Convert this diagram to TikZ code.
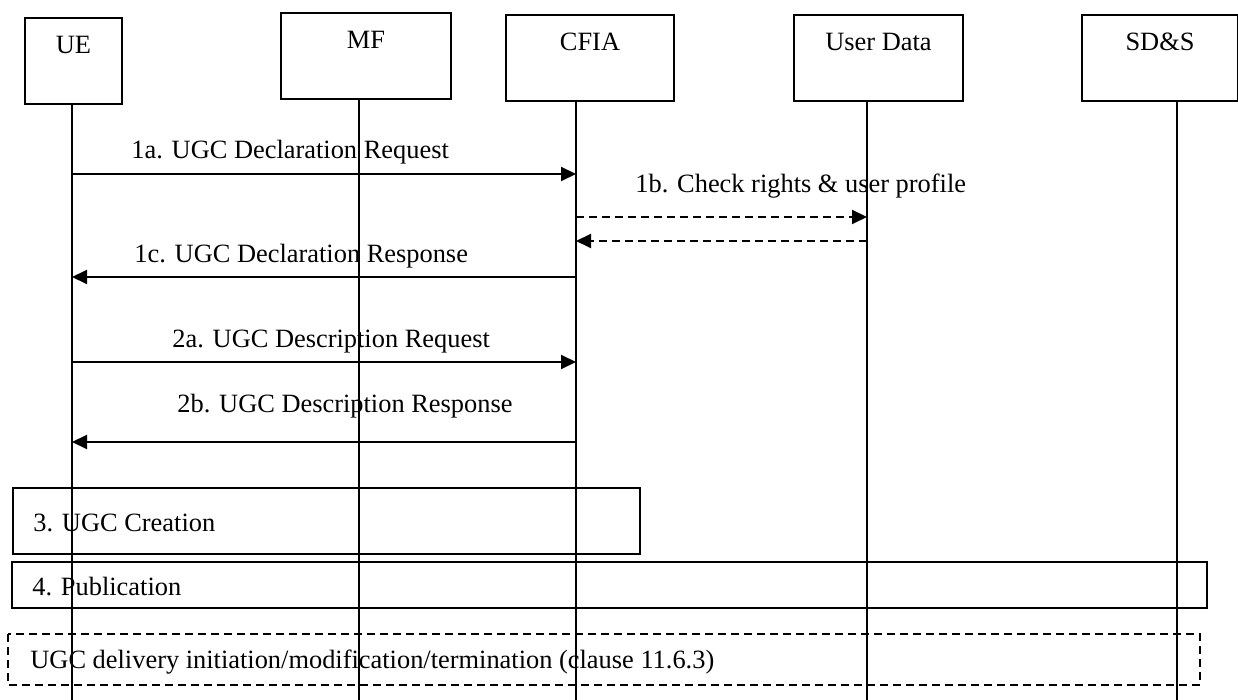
\documentclass[tikz,border=0pt]{standalone}
\usepackage{fontspec}
\setmainfont{Liberation Serif}
\usetikzlibrary{arrows.meta}

\tikzset{
  entity/.style={draw, line width=1pt, inner sep=0pt, anchor=north west,
    minimum width=#1*0.5pt, text height=18pt, text depth=25pt},
  life/.style={line width=1pt},
  msg/.style={line width=1pt, -{Triangle[length=7.5pt,width=7pt]}},
  reply/.style={msg, dashed, dash pattern=on 4pt off 2.5pt},
  stage/.style={line width=1pt},
  txt/.style={anchor=base west, inner sep=0pt}
}

\begin{document}
\begin{tikzpicture}[x=0.5pt, y=-0.5pt, every node/.style={font=\fontsize{13.2}{15}\selectfont}]
\useasboundingbox (0,0) rectangle (1238,700);
% The entities at the top
\node[entity=97] (ue) at (24,17) {UE};
\node[entity=170] (mf) at (280,12) {MF};
\node[entity=168] (cfia) at (505,14) {CFIA};
\node[entity=169] (ud) at (793,14) {User Data};
\node[entity=156] (sds) at (1081,14) {SD\&S};
% Lifelines, down to the bottom edge
\coordinate (ueL) at (72,700);
\coordinate (mfL) at (359,700);
\coordinate (cfiaL) at (576,700);
\coordinate (udL) at (867,700);
\coordinate (sdsL) at (1177,700);
\draw[life] (ue.south -| ueL) -- (ueL);
\draw[life] (mf.south -| mfL) -- (mfL);
\draw[life] (cfia.south -| cfiaL) -- (cfiaL);
\draw[life] (ud.south -| udL) -- (udL);
\draw[life] (sds.south -| sdsL) -- (sdsL);
% Step 1: declaration
\draw[msg] (ueL |- 0,174) -- (cfiaL |- 0,174);
\node[txt] (m1a) at (131,159) {1a. UGC Declaration Request};
\draw[reply] (cfiaL |- 0,217) -- (udL |- 0,217);
\draw[reply] (udL |- 0,241) -- (cfiaL |- 0,241);
\node[txt] (m1b) at (635,193) {1b. Check rights \& user profile};
\draw[msg] (cfiaL |- 0,277) -- (ueL |- 0,277);
\node[txt] (m1c) at (134,263) {1c. UGC Declaration Response};
% Step 2: description
\draw[msg] (ueL |- 0,362) -- (cfiaL |- 0,362);
\node[txt] (m2a) at (172,348) {2a. UGC Description Request};
\draw[msg] (cfiaL |- 0,442) -- (ueL |- 0,442);
\node[txt] (m2b) at (177,413) {2b. UGC Description Response};
% Steps 3 and 4, then delivery
\draw[stage] (13,488) rectangle (640,554);
\node[txt] (s3) at (33,531) {3. UGC Creation};
\draw[stage] (12,562) rectangle (1207,608);
\node[txt] (s4) at (32,595) {4. Publication};
\draw[stage, dashed, dash pattern=on 4pt off 2.5pt] (8,634) rectangle (1200,685);
\node[txt] (dlv) at (30,668) {UGC delivery initiation/modification/termination (clause 11.6.3)};
\end{tikzpicture}
\end{document}
